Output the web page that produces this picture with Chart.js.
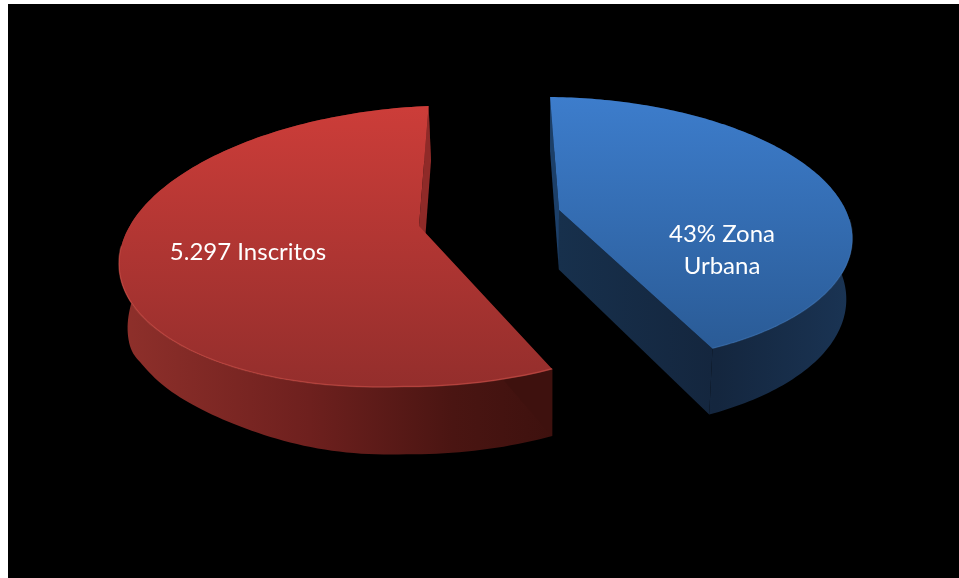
<!DOCTYPE html>
<html lang="es">
<head>
<meta charset="UTF-8">
<title>Inscritos por zona</title>
<script src="https://cdn.jsdelivr.net/npm/chart.js"></script>
<style>
    html, body { margin: 0; background: #fff; overflow: hidden; }
    #bg { position: absolute; left: 8px; top: 4px; right: 0; bottom: 0; background: #000; }
    canvas { position: absolute; left: 0; top: 0; }
</style>
</head>
<body>
<div id="bg"></div>
<canvas id="chart_pie" width="959" height="578"></canvas>
<script>
const categories = ['43% Zona Urbana', '5.297 Inscritos'];
const shares = [43, 57];
const textLines = [['43% Zona', 'Urbana'], ['5.297 Inscritos']];

// how each slice sits on the tilted plane (Chart.js only knows a flat pie)
const views = [
    { cx: 559, cy: 210, a: 288, t: 130.5, k: 0.155, shear: 10.3, tilt: 3,
      top: ['#3d7dcc', '#2a5b96'], topY: [96, 349], rim: 'rgba(90,140,200,0.22)',
      side: [[0, '#162c49'], [0.55, '#14263e'], [1, '#1a3454']], wallEnd: ['#17304c', '#14263e'], wallStart: '#1c3f68',
      textX: 722, textY: [234, 266] },
    { cx: 419, cy: 226, a: 295, t: 137.5, k: 0.146, shear: -11, tilt: -12,
      top: ['#cc3d39', '#942e2c'], topY: [106, 387], rim: 'rgba(225,95,85,0.42)',
      side: [[0, '#8f302b'], [0.44, '#6e201e'], [0.77, '#4a1512'], [1, '#3e110e']], wallEnd: ['#8f2a28', '#8f2a28'], wallStart: '#3e110e',
      textX: 248, textY: [252] }
];

function project(v, angle, r) {
    const s = Math.sin(angle) * r, c = -Math.cos(angle) * r;
    const w = 1 - v.k * c;
    return {
        x: v.cx + (v.a * s + v.shear * c) / w,
        y: v.cy + (v.t * c + Math.max(v.tilt * s, 0)) / w
    };
}

// same point pushed down by the thickness of the pie, lines converge slightly.
// the bottom edge of the real picture is thinner at lower left and rounder at the far left
function lower(p) {
    const bump = 8 * Math.exp(-Math.pow((p.x - 119) / 10, 2)) - 9 * Math.exp(-Math.pow((p.x - 190) / 110, 2));
    return { x: p.x + (550 - p.x) * 0.02, y: p.y + 50 + 0.045 * p.y + bump };
}

function poly(ctx, pts) {
    ctx.beginPath();
    pts.forEach((p, i) => i ? ctx.lineTo(p.x, p.y) : ctx.moveTo(p.x, p.y));
    ctx.closePath();
}

const pie3d = {
    id: 'pie3d',
    beforeDatasetsDraw(chart) {
        const ctx = chart.ctx;
        chart.getDatasetMeta(0).data.forEach((arc, i) => {
            const v = views[i];
            const a0 = arc.startAngle + Math.PI / 2, a1 = arc.endAngle + Math.PI / 2;
            const rim = [];
            for (let n = 0; n <= 160; n++) rim.push(project(v, a0 + (a1 - a0) * n / 160, 1));
            const hub = project(v, 0, 0);
            const xs = rim.map(p => p.x);
            const minX = Math.min(...xs), maxX = Math.max(...xs);

            // outer wall
            const g = ctx.createLinearGradient(minX, 0, maxX, 0);
            v.side.forEach(s => g.addColorStop(s[0], s[1]));
            ctx.fillStyle = g;
            poly(ctx, rim.concat(rim.map(lower).reverse()));
            ctx.fill();

            // cut faces
            ctx.fillStyle = v.wallStart;
            poly(ctx, [hub, rim[0], lower(rim[0]), lower(hub)]);
            ctx.fill();
            const wg = ctx.createLinearGradient(Math.min(hub.x, rim[160].x), 0, Math.max(hub.x, rim[160].x) + 1, 0);
            wg.addColorStop(0, v.wallEnd[0]);
            wg.addColorStop(1, v.wallEnd[1]);
            ctx.fillStyle = wg;
            poly(ctx, [hub, rim[160], lower(rim[160]), lower(hub)]);
            ctx.fill();

            // top face
            const tg = ctx.createLinearGradient(0, v.topY[0], 0, v.topY[1]);
            tg.addColorStop(0, v.top[0]);
            tg.addColorStop(1, v.top[1]);
            ctx.fillStyle = tg;
            poly(ctx, [hub].concat(rim));
            ctx.fill();

            // soft light along the front edge
            ctx.strokeStyle = v.rim;
            ctx.lineWidth = 1.5;
            ctx.beginPath();
            let pen = false;
            for (let n = 0; n <= 160; n++) {
                const ang = a0 + (a1 - a0) * n / 160;
                if (-Math.cos(ang) < 0.05) { pen = false; continue; }
                const p = rim[n];
                pen ? ctx.lineTo(p.x, p.y - 0.5) : ctx.moveTo(p.x, p.y - 0.5);
                pen = true;
            }
            ctx.stroke();

            // label
            ctx.fillStyle = '#fff';
            ctx.font = '24px Lato';
            ctx.textAlign = 'center';
            ctx.textBaseline = 'middle';
            textLines[i].forEach((line, l) => ctx.fillText(line, v.textX, v.textY[l]));
        });
        return false;
    }
};

new Chart(document.getElementById('chart_pie'), {
    type: 'pie',
    data: {
        labels: categories,
        datasets: [{ data: shares, borderWidth: 0, backgroundColor: ['#3d7dcc', '#cc3d39'] }]
    },
    options: {
        responsive: false,
        animation: false,
        plugins: { legend: { display: false }, tooltip: { enabled: false } }
    },
    plugins: [pie3d]
});
</script>
</body>
</html>
